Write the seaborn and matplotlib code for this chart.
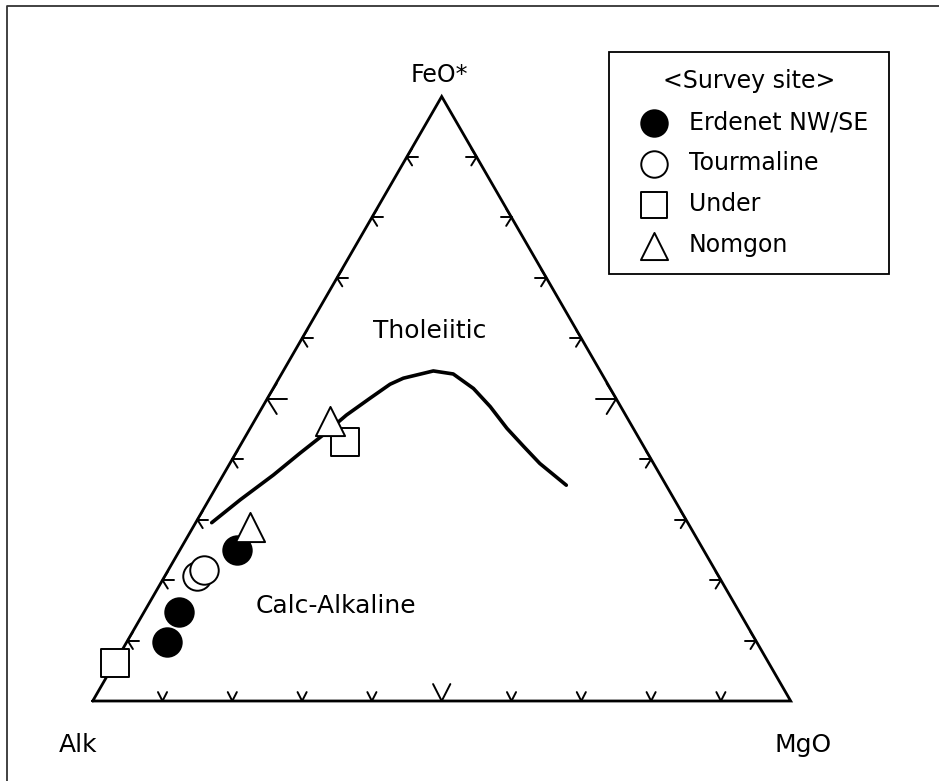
import numpy as np
import pandas as pd
import matplotlib
matplotlib.use("Agg")
import matplotlib.pyplot as plt
from matplotlib.lines import Line2D
import seaborn as sns

# AFM 组成 (%): FeO*, MgO ; Alk = 100 - FeO* - MgO
erdenet_feo = [24.9, 14.8, 9.8]
erdenet_mgo = [8.2, 5.0, 5.8]
tourm_feo = [20.7, 21.6]
tourm_mgo = [4.6, 5.2]
under_feo = [6.3, 42.8]
under_mgo = [0.0, 14.7]
nomgon_feo = [28.8, 46.3]
nomgon_mgo = [8.1, 10.9]

# Tholeiitic / Calc-Alkaline 境界線
bound_feo = [29.5, 33.3, 37.4, 41.0, 44.0, 47.3, 50.1, 52.4, 53.4, 54.6,
             54.1, 51.7, 48.7, 45.1, 42.1, 39.3, 35.7]
bound_mgo = [2.3, 4.5, 7.2, 9.2, 11.0, 12.7, 14.7, 16.4, 17.8, 21.5,
             24.6, 28.7, 32.6, 36.8, 40.7, 44.4, 50.0]

site_labels = ["Erdenet NW/SE", "Tourmaline", "Under", "Nomgon"]

H = np.sqrt(3) / 2
W, HGT = 939, 781
X0, Y0, SIDE = 92.7, 701.0, 698.0  # 三角形在画面中的位置 (px)


def to_xy(feo, mgo):
    f = np.asarray(feo, dtype=float) / 100.0
    m = np.asarray(mgo, dtype=float) / 100.0
    return m + 0.5 * f, H * f


def px(x, y):
    # 像素 -> 三角形坐标
    return (x - X0) / SIDE, (Y0 - y) / SIDE


sns.set_style("white")
plt.rcParams['font.family'] = ['DejaVu Sans']
plt.rcParams['text.color'] = 'black'

fig = plt.figure(figsize=(W / 100, HGT / 100), dpi=100)
ax = fig.add_axes([0, 0, 1, 1])
xl0, yl0 = px(0, HGT)
xl1, yl1 = px(W, 0)
ax.set_xlim(xl0, xl1)
ax.set_ylim(yl0, yl1)
ax.axis('off')

# 外框 (只有左边和上边可见)
fig.add_artist(Line2D([7 / W, 7 / W, 1.01], [-0.01, 1 - 6 / HGT, 1 - 6 / HGT],
                      transform=fig.transFigure, color='#333333', lw=1.3))

# 三角形
tri_x = [0, 1, 0.5, 0]
tri_y = [0, 0, H, 0]
ax.plot(tri_x, tri_y, color='black', lw=2.0, solid_joinstyle='miter', zorder=2)

# 刻度 (箭头形)
u = 1 / SIDE
for k in range(1, 10):
    t = k / 10
    big = (k == 5)
    stub = (20 if big else 11) * u
    arm = (18 if big else 10) * u
    varm = (19 if big else 10) * u
    th = np.radians(58)
    vth = np.radians(27)
    # 左边
    p = np.array([0.5 * t, H * t])
    ax.plot([p[0], p[0] + stub], [p[1], p[1]], color='black', lw=1.4)
    ax.plot([p[0] + arm * np.cos(th), p[0], p[0] + arm * np.cos(th)],
            [p[1] + arm * np.sin(th), p[1], p[1] - arm * np.sin(th)], color='black', lw=1.4)
    # 右边
    p = np.array([1 - 0.5 * t, H * t])
    ax.plot([p[0], p[0] - stub], [p[1], p[1]], color='black', lw=1.4)
    ax.plot([p[0] - arm * np.cos(th), p[0], p[0] - arm * np.cos(th)],
            [p[1] + arm * np.sin(th), p[1], p[1] - arm * np.sin(th)], color='black', lw=1.4)
    # 底边
    p = np.array([t, 0])
    ax.plot([p[0] - varm * np.sin(vth), p[0], p[0] + varm * np.sin(vth)],
            [varm * np.cos(vth), 0, varm * np.cos(vth)], color='black', lw=1.4)

# 境界线
bx, by = to_xy(bound_feo, bound_mgo)
sns.lineplot(x=bx, y=by, sort=False, color='black', lw=2.6, ax=ax, zorder=3)

# 数据点
groups = [
    (erdenet_feo, erdenet_mgo, 'o', 'black'),
    (tourm_feo, tourm_mgo, 'o', 'white'),
    (under_feo, under_mgo, 's', 'white'),
    (nomgon_feo, nomgon_mgo, '^', 'white'),
]
sizes = {'o': 20.5 ** 2, 's': 20 ** 2, '^': 21 ** 2}
handles = []
for (feo, mgo, mk, fc), lab in zip(groups, site_labels):
    gx, gy = to_xy(feo, mgo)
    df = pd.DataFrame({'x': gx, 'y': gy})
    sns.scatterplot(data=df, x='x', y='y', marker=mk, s=sizes[mk],
                    facecolor=fc, edgecolor='black', linewidth=1.4,
                    ax=ax, zorder=4, label=lab, legend=False)
    handles.append(ax.collections[-1])

# 顶点标签
ax.text(*px(439, 82), "FeO*", fontsize=17, ha='center', va='baseline')
ax.text(*px(78, 752), "Alk", fontsize=18, ha='center', va='baseline')
ax.text(*px(803, 752), "MgO", fontsize=18, ha='center', va='baseline')
ax.text(*px(430, 338), "Tholeiitic", fontsize=18, ha='center', va='baseline')
ax.text(*px(336, 613), "Calc-Alkaline", fontsize=18, ha='center', va='baseline')

# 图例
leg = ax.legend(handles, site_labels, title="<Survey site>",
                loc='upper left', mode='expand',
                bbox_to_anchor=(609 / W, 1 - 273 / HGT, (889 - 609) / W, (273 - 52) / HGT),
                bbox_transform=fig.transFigure, borderaxespad=0,
                fontsize=17, title_fontsize=17, frameon=True, fancybox=False,
                edgecolor='black', framealpha=1, borderpad=0.72,
                handlelength=2.35, handletextpad=0.3, labelspacing=0.72,
                markerscale=0.93, scatterpoints=1)
leg.get_frame().set_linewidth(1.3)

fig.savefig("out.png", dpi=100)
